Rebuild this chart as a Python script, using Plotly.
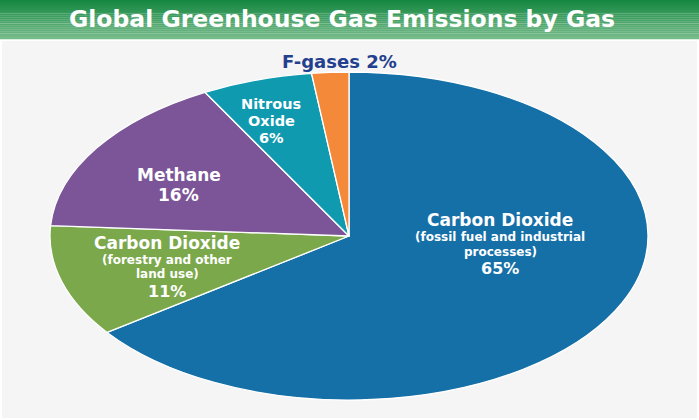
import plotly.graph_objects as go

# ---------------- data ----------------
categories = [
    "Carbon Dioxide (fossil fuel and industrial processes)",
    "Carbon Dioxide (forestry and other land use)",
    "Methane",
    "Nitrous Oxide",
    "F-gases",
]
values = [65, 11, 16, 6, 2]
colors = ["#1570a8", "#7ba84a", "#7b5597", "#0f9ab0", "#f5893a"]

title_text = "Global Greenhouse Gas Emissions by Gas"

# label text lines per slice
label_lines = [
    ["Carbon Dioxide", "(fossil fuel and industrial", "processes)", f"{values[0]}%"],
    ["Carbon Dioxide", "(forestry and other", "land use)", f"{values[1]}%"],
    ["Methane", f"{values[2]}%"],
    ["Nitrous", "Oxide", f"{values[3]}%"],
    [f"F-gases {values[4]}%"],
]

W, H = 699, 420
FONT = "DejaVu Sans"

# label layout: block x centre, per-line (font size, y pixel), colour
label_layout = [
    (500, [(17, 220), (12, 237), (12, 251.5), (16, 268)], "white"),
    (167, [(17, 243), (12, 260), (12, 274), (16, 291)], "white"),
    (179, [(17, 174.5), (17, 195)], "white"),
    (271, [(14.5, 104), (14.5, 121), (14.5, 138)], "white"),
    (339, [(18, 61)], "#22408e"),
]

fig = go.Figure()
fig.add_trace(go.Pie(
    labels=categories,
    values=values,
    sort=False,
    direction="clockwise",
    rotation=0,
    textinfo="none",
    hoverinfo="skip",
    showlegend=False,
    marker=dict(colors=colors, line=dict(color="white", width=1.3)),
    domain=dict(x=[185 / W, 513 / W], y=[1 - 400 / H, 1 - 72 / H]),
))

shapes = []
# light gray panel
shapes.append(dict(type="rect", xref="paper", yref="paper",
                   x0=2 / W, x1=697 / W, y0=1 - 418 / H, y1=1 - 41 / H,
                   fillcolor="#f5f5f5", line=dict(width=0), layer="below"))
# gradient title band
top_c = (22, 136, 66)
bot_c = (118, 187, 138)
n = 20
band_h = 39.0
for i in range(n):
    t = i / (n - 1)
    c = tuple(int(round(top_c[k] + (bot_c[k] - top_c[k]) * t)) for k in range(3))
    y0p = band_h * i / n
    y1p = band_h * (i + 1) / n
    shapes.append(dict(type="rect", xref="paper", yref="paper",
                       x0=0, x1=1, y0=1 - y1p / H - 0.0005, y1=1 - y0p / H,
                       fillcolor=f"rgb{c}", line=dict(width=0), layer="below"))

annotations = [dict(
    text=f"<b>{title_text}</b>", x=342 / W, y=1 - 19 / H, xref="paper", yref="paper",
    xanchor="center", yanchor="middle", showarrow=False, borderpad=0,
    font=dict(family=FONT, size=23.5, color="white"))]

for lines, (px, specs, col) in zip(label_lines, label_layout):
    for txt, (size, py) in zip(lines, specs):
        annotations.append(dict(
            text=f"<b>{txt}</b>", x=px / W, y=1 - py / H, xref="paper", yref="paper",
            xanchor="center", yanchor="middle", showarrow=False, borderpad=0,
            font=dict(family=FONT, size=size, color=col)))

fig.update_layout(
    width=W, height=H,
    margin=dict(l=0, r=0, t=0, b=0),
    paper_bgcolor="white",
    plot_bgcolor="white",
    shapes=shapes,
    annotations=annotations,
)

# stretch pie horizontally into the ellipse seen in the reference
SX = 299 / 164
post = """
document.body.style.margin = '0';
document.body.style.overflow = 'hidden';
var gd = document.getElementById('{plot_id}');
var g = gd.querySelector('.pielayer .trace');
if (g) {
  var bb = g.getBBox();
  var cx = bb.x + bb.width / 2, cy = bb.y + bb.height / 2;
  g.setAttribute('transform', 'translate(' + cx + ',' + cy + ') scale(SXV,1) translate(' + (-cx) + ',' + (-cy) + ')');
  g.querySelectorAll('path').forEach(function (p) { p.setAttribute('vector-effect', 'non-scaling-stroke'); });
}
""".replace("SXV", f"{SX:.4f}")

fig.write_html("out.html", post_script=post, config={"displayModeBar": False})
